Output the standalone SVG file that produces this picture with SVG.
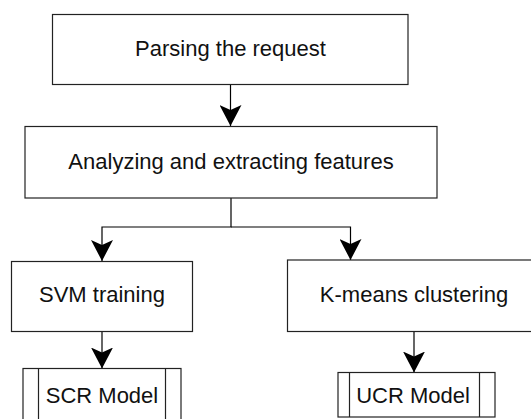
<svg xmlns="http://www.w3.org/2000/svg" width="531" height="419" viewBox="0 0 531 419">
<defs>
<marker id="arr" viewBox="0 0 22 22" refX="21" refY="11" markerWidth="22" markerHeight="22" markerUnits="userSpaceOnUse" orient="auto">
<path d="M0,0 L21,11 L0,22 L5,11 Z" fill="#000"/>
</marker>
<style>
.box{fill:#fff;stroke:#222;stroke-width:1.2}
.lbl{font-family:"Liberation Sans",Arial,Helvetica,sans-serif;font-size:22px;fill:#111;text-anchor:middle}
.con{fill:none;stroke:#000;stroke-width:1.2}
</style>
</defs>
<rect width="531" height="419" fill="#fff"/>
<g id="connectors">
<path class="con" d="M230.5,84.5 V126" marker-end="url(#arr)"/>
<path class="con" d="M231,198 V227 H102 V261" marker-end="url(#arr)"/>
<path class="con" d="M231,227 H350.5 V260" marker-end="url(#arr)"/>
<path class="con" d="M102,331.5 V368.5" marker-end="url(#arr)"/>
<path class="con" d="M414,331.5 V372.5" marker-end="url(#arr)"/>
</g>
<g id="parse">
<rect class="box" x="52.5" y="14.5" width="355.5" height="70"/>
<text class="lbl" x="230.5" y="55.5">Parsing the request</text>
</g>
<g id="analyze">
<rect class="box" x="25" y="126.5" width="412" height="71.5"/>
<text class="lbl" x="231" y="169">Analyzing and extracting features</text>
</g>
<g id="svm">
<rect class="box" x="11.5" y="261.5" width="181" height="70"/>
<text class="lbl" x="102" y="302">SVM training</text>
</g>
<g id="kmeans">
<rect class="box" x="287.5" y="260" width="253" height="71.5"/>
<text class="lbl" x="414" y="302">K-means clustering</text>
</g>
<g id="scr">
<rect class="box" x="23" y="368.5" width="158" height="60"/>
<line class="box" x1="38.5" y1="368.5" x2="38.5" y2="428.5"/>
<line class="box" x1="165.5" y1="368.5" x2="165.5" y2="428.5"/>
<text class="lbl" x="102" y="403">SCR Model</text>
</g>
<g id="ucr">
<rect class="box" x="338" y="372.5" width="157" height="44.5"/>
<line class="box" x1="349.5" y1="372.5" x2="349.5" y2="417"/>
<line class="box" x1="479.5" y1="372.5" x2="479.5" y2="417"/>
<text class="lbl" x="413" y="403">UCR Model</text>
</g>
</svg>
